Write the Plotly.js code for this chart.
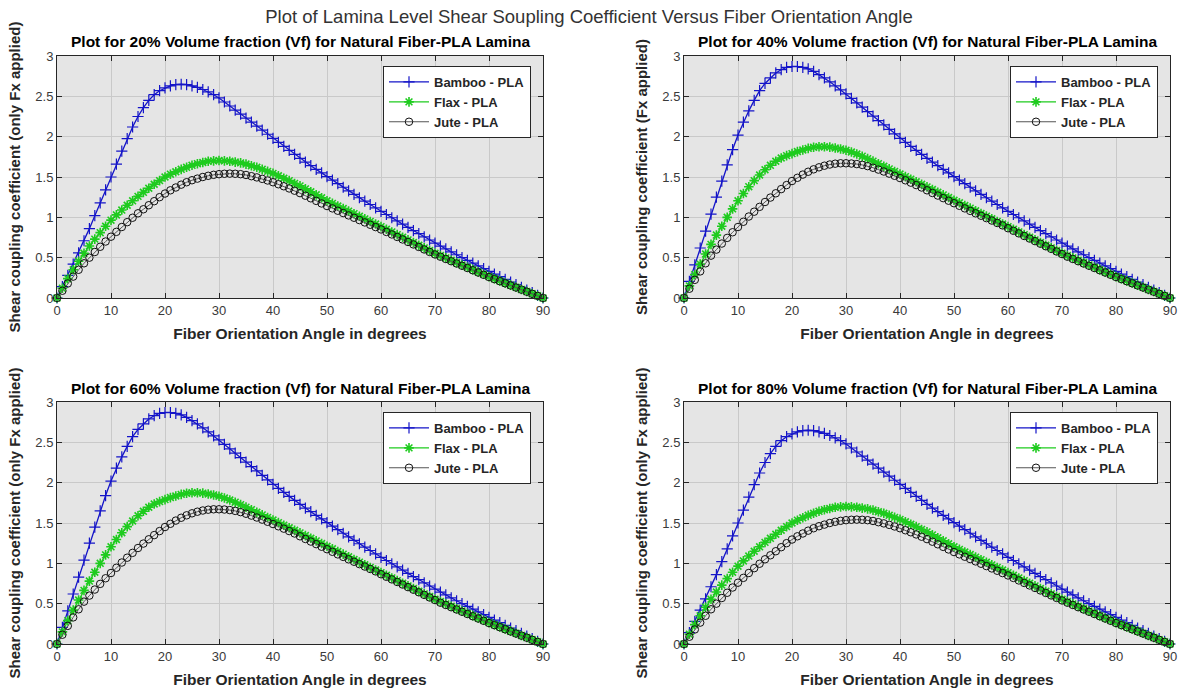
<!DOCTYPE html>
<html>
<head>
<meta charset="utf-8">
<script src="https://cdn.plot.ly/plotly-3.0.1.min.js"></script>
<style>html,body{margin:0;padding:0;background:#fff;}#chart{width:1178px;height:690px;}</style>
</head>
<body>
<div id="chart"></div>
<script>
const angles = [0,1,2,3,4,5,6,7,8,9,10,11,12,13,14,15,16,17,18,19,20,21,22,23,24,25,26,27,28,29,30,31,32,33,34,35,36,37,38,39,40,41,42,43,44,45,46,47,48,49,50,51,52,53,54,55,56,57,58,59,60,61,62,63,64,65,66,67,68,69,70,71,72,73,74,75,76,77,78,79,80,81,82,83,84,85,86,87,88,89,90];

const bamboo20 = [0.000,0.140,0.280,0.420,0.560,0.710,0.860,1.020,1.180,1.340,1.500,1.660,1.820,1.975,2.120,2.250,2.360,2.450,2.520,2.570,2.605,2.630,2.645,2.650,2.645,2.630,2.610,2.585,2.555,2.520,2.480,2.430,2.380,2.330,2.280,2.230,2.180,2.130,2.080,2.030,1.980,1.930,1.880,1.830,1.780,1.730,1.685,1.640,1.595,1.550,1.505,1.461,1.417,1.373,1.329,1.285,1.243,1.201,1.159,1.117,1.075,1.035,0.995,0.955,0.915,0.875,0.836,0.797,0.758,0.719,0.680,0.644,0.608,0.572,0.536,0.500,0.466,0.432,0.398,0.364,0.330,0.297,0.264,0.231,0.198,0.165,0.132,0.099,0.066,0.033,0.000];
const flax20 = [0.000,0.120,0.240,0.350,0.455,0.555,0.645,0.730,0.810,0.890,0.965,1.030,1.090,1.150,1.205,1.260,1.310,1.360,1.410,1.455,1.500,1.535,1.565,1.595,1.620,1.645,1.665,1.680,1.695,1.700,1.705,1.700,1.695,1.685,1.675,1.660,1.640,1.620,1.595,1.570,1.545,1.515,1.485,1.455,1.420,1.390,1.353,1.316,1.279,1.242,1.205,1.173,1.141,1.109,1.077,1.045,1.013,0.981,0.949,0.917,0.885,0.852,0.819,0.786,0.753,0.720,0.687,0.654,0.621,0.588,0.555,0.526,0.497,0.468,0.439,0.410,0.381,0.352,0.323,0.294,0.265,0.239,0.212,0.186,0.159,0.133,0.106,0.080,0.053,0.027,0.000];
const jute20 = [0.000,0.090,0.180,0.265,0.350,0.430,0.500,0.570,0.635,0.700,0.760,0.820,0.880,0.940,0.995,1.050,1.100,1.150,1.200,1.250,1.295,1.335,1.370,1.405,1.435,1.460,1.480,1.500,1.515,1.527,1.535,1.540,1.542,1.540,1.535,1.525,1.510,1.495,1.477,1.457,1.435,1.410,1.385,1.358,1.330,1.300,1.268,1.236,1.204,1.172,1.140,1.111,1.082,1.053,1.024,0.995,0.966,0.937,0.908,0.879,0.850,0.819,0.788,0.757,0.726,0.695,0.664,0.633,0.602,0.571,0.540,0.512,0.484,0.456,0.428,0.400,0.372,0.344,0.316,0.288,0.260,0.234,0.208,0.182,0.156,0.130,0.104,0.078,0.052,0.026,0.000];

const bamboo40 = [0.000,0.205,0.410,0.620,0.830,1.040,1.250,1.450,1.650,1.840,2.020,2.180,2.320,2.450,2.570,2.660,2.730,2.790,2.830,2.860,2.870,2.870,2.860,2.840,2.810,2.770,2.730,2.680,2.630,2.580,2.530,2.475,2.420,2.365,2.310,2.255,2.200,2.145,2.090,2.035,1.980,1.930,1.880,1.830,1.780,1.730,1.685,1.640,1.595,1.550,1.505,1.461,1.417,1.373,1.329,1.285,1.243,1.201,1.159,1.117,1.075,1.035,0.995,0.955,0.915,0.875,0.836,0.797,0.758,0.719,0.680,0.644,0.608,0.572,0.536,0.500,0.466,0.432,0.398,0.364,0.330,0.297,0.264,0.231,0.198,0.165,0.132,0.099,0.066,0.033,0.000];
const flax40 = [0.000,0.150,0.290,0.420,0.545,0.665,0.780,0.890,1.000,1.105,1.205,1.295,1.380,1.455,1.525,1.590,1.645,1.695,1.735,1.765,1.790,1.815,1.835,1.855,1.868,1.875,1.875,1.870,1.860,1.848,1.832,1.810,1.785,1.758,1.728,1.697,1.665,1.633,1.601,1.569,1.537,1.505,1.473,1.441,1.409,1.377,1.344,1.311,1.278,1.245,1.212,1.180,1.147,1.114,1.081,1.048,1.015,0.982,0.949,0.917,0.885,0.852,0.819,0.786,0.753,0.720,0.687,0.654,0.621,0.588,0.555,0.526,0.497,0.468,0.439,0.410,0.381,0.352,0.323,0.294,0.265,0.239,0.212,0.186,0.159,0.133,0.106,0.080,0.053,0.027,0.000];
const jute40 = [0.000,0.115,0.225,0.330,0.430,0.525,0.600,0.675,0.745,0.815,0.880,0.945,1.010,1.070,1.130,1.190,1.245,1.298,1.350,1.400,1.450,1.490,1.530,1.565,1.595,1.620,1.640,1.655,1.665,1.670,1.670,1.667,1.660,1.650,1.635,1.615,1.592,1.568,1.542,1.515,1.487,1.459,1.430,1.400,1.370,1.335,1.302,1.270,1.238,1.206,1.175,1.143,1.111,1.080,1.050,1.020,0.990,0.960,0.930,0.900,0.865,0.833,0.801,0.769,0.737,0.705,0.673,0.641,0.609,0.577,0.545,0.512,0.484,0.456,0.428,0.400,0.372,0.344,0.316,0.288,0.260,0.234,0.208,0.182,0.156,0.130,0.104,0.078,0.052,0.026,0.000];

// 60% and 80% panels read identical to 40% and 20% panels respectively
const bamboo60 = bamboo40.slice();
const flax60 = flax40.slice();
const jute60 = jute40.slice();
const bamboo80 = bamboo20.slice();
const flax80 = flax20.slice();
const jute80 = jute20.slice();

const seriesNames = ['Bamboo - PLA', 'Flax - PLA', 'Jute - PLA'];
const panelTitles = [
  'Plot for 20% Volume fraction (Vf) for Natural Fiber-PLA Lamina',
  'Plot for 40% Volume fraction (Vf) for Natural Fiber-PLA Lamina',
  'Plot for 60% Volume fraction (Vf) for Natural Fiber-PLA Lamina',
  'Plot for 80% Volume fraction (Vf) for Natural Fiber-PLA Lamina'
];
const yTitles = [
  'Shear coupling coefficient (only Fx applied)',
  'Shear coupling coefficient (Fx applied)',
  'Shear coupling coefficient (only Fx applied)',
  'Shear coupling coefficient (only Fx applied)'
];
const xTitle = 'Fiber Orientation Angle in degrees';
const mainTitle = 'Plot of Lamina Level Shear Soupling Coefficient Versus Fiber Orientation Angle';

const panels = [
  [bamboo20, flax20, jute20],
  [bamboo40, flax40, jute40],
  [bamboo60, flax60, jute60],
  [bamboo80, flax80, jute80]
];

const W = 1178, H = 690;
const boxes = [
  {x0: 57, x1: 543, y0: 56, y1: 298},
  {x0: 684, x1: 1170, y0: 56, y1: 298},
  {x0: 57, x1: 543, y0: 402, y1: 644},
  {x0: 684, x1: 1170, y0: 402, y1: 644}
];

const BLUE = '#1414c8', GREEN = '#1ecb1e', BLACK = '#111111', GRAYLINE = '#555555';
const styles = [
  {line: {color: BLUE, width: 1.3}, marker: {symbol: 'cross-thin-open', size: 8, color: BLUE, line: {color: BLUE, width: 1.2}}},
  {line: {color: GREEN, width: 1.3}, marker: {symbol: 'asterisk-open', size: 8, color: GREEN, line: {color: GREEN, width: 1.6}}},
  {line: {color: GRAYLINE, width: 1}, marker: {symbol: 'circle-open', size: 7.5, color: BLACK, line: {color: BLACK, width: 1}}}
];

const data = [];
const layout = {
  width: W, height: H,
  margin: {l: 0, r: 0, t: 0, b: 0},
  paper_bgcolor: '#ffffff',
  font: {family: 'Liberation Sans, Arial, sans-serif', color: '#262626'},
  title: {text: mainTitle, x: 0.5, xanchor: 'center', y: 1 - 17 / H, yanchor: 'middle', font: {size: 18.5, color: '#333333', family: 'Liberation Sans, Arial, sans-serif'}},
  showlegend: true,
  annotations: []
};

panels.forEach((p, i) => {
  const n = i + 1;
  const xa = n === 1 ? 'x' : 'x' + n;
  const ya = n === 1 ? 'y' : 'y' + n;
  const lg = n === 1 ? 'legend' : 'legend' + n;
  p.forEach((vals, k) => {
    data.push({
      type: 'scatter', mode: 'lines+markers',
      x: angles, y: vals, name: seriesNames[k],
      xaxis: xa, yaxis: ya, legend: lg,
      line: styles[k].line, marker: styles[k].marker,
      cliponaxis: false
    });
  });
  const b = boxes[i];
  const common = {
    ticks: 'inside', ticklen: 5, tickcolor: '#262626', tickwidth: 1,
    showline: true, linecolor: '#262626', linewidth: 1, mirror: 'ticks',
    showgrid: true, gridcolor: '#c9c9c9', gridwidth: 1, zeroline: false,
    tickfont: {size: 13, color: '#3a3a3a'}, automargin: false, fixedrange: true
  };
  layout[n === 1 ? 'xaxis' : 'xaxis' + n] = Object.assign({}, common, {
    domain: [b.x0 / W, b.x1 / W], anchor: ya, range: [0, 90], tick0: 0, dtick: 10,
    title: {text: xTitle, standoff: 11, font: {size: 15.5, color: '#262626', weight: 'bold'}}
  });
  layout[n === 1 ? 'yaxis' : 'yaxis' + n] = Object.assign({}, common, {
    domain: [1 - b.y1 / H, 1 - b.y0 / H], anchor: xa, range: [0, 3], tick0: 0, dtick: 0.5,
    title: {text: yTitles[i], standoff: 11, font: {size: 15, color: '#262626', weight: 'bold'}}
  });
  layout[lg] = {
    x: (b.x1 - 12) / W, xanchor: 'right', y: 1 - (b.y0 + 10) / H, yanchor: 'top',
    bgcolor: '#ffffff', bordercolor: '#262626', borderwidth: 1,
    font: {size: 13, color: '#262626', weight: 'bold'}, tracegroupgap: 0,
    itemwidth: 40
  };
  layout.annotations.push({
    text: '<b>' + panelTitles[i] + '</b>', xref: 'paper', yref: 'paper',
    x: (b.x0 + b.x1) / 2 / W, y: 1 - (b.y0 - 14) / H, xanchor: 'center', yanchor: 'middle',
    showarrow: false, font: {size: 15.5, color: '#000000'}
  });
});
layout.plot_bgcolor = '#e5e5e5';

Plotly.newPlot('chart', data, layout, {displayModeBar: false, staticPlot: true});
</script>
</body>
</html>
